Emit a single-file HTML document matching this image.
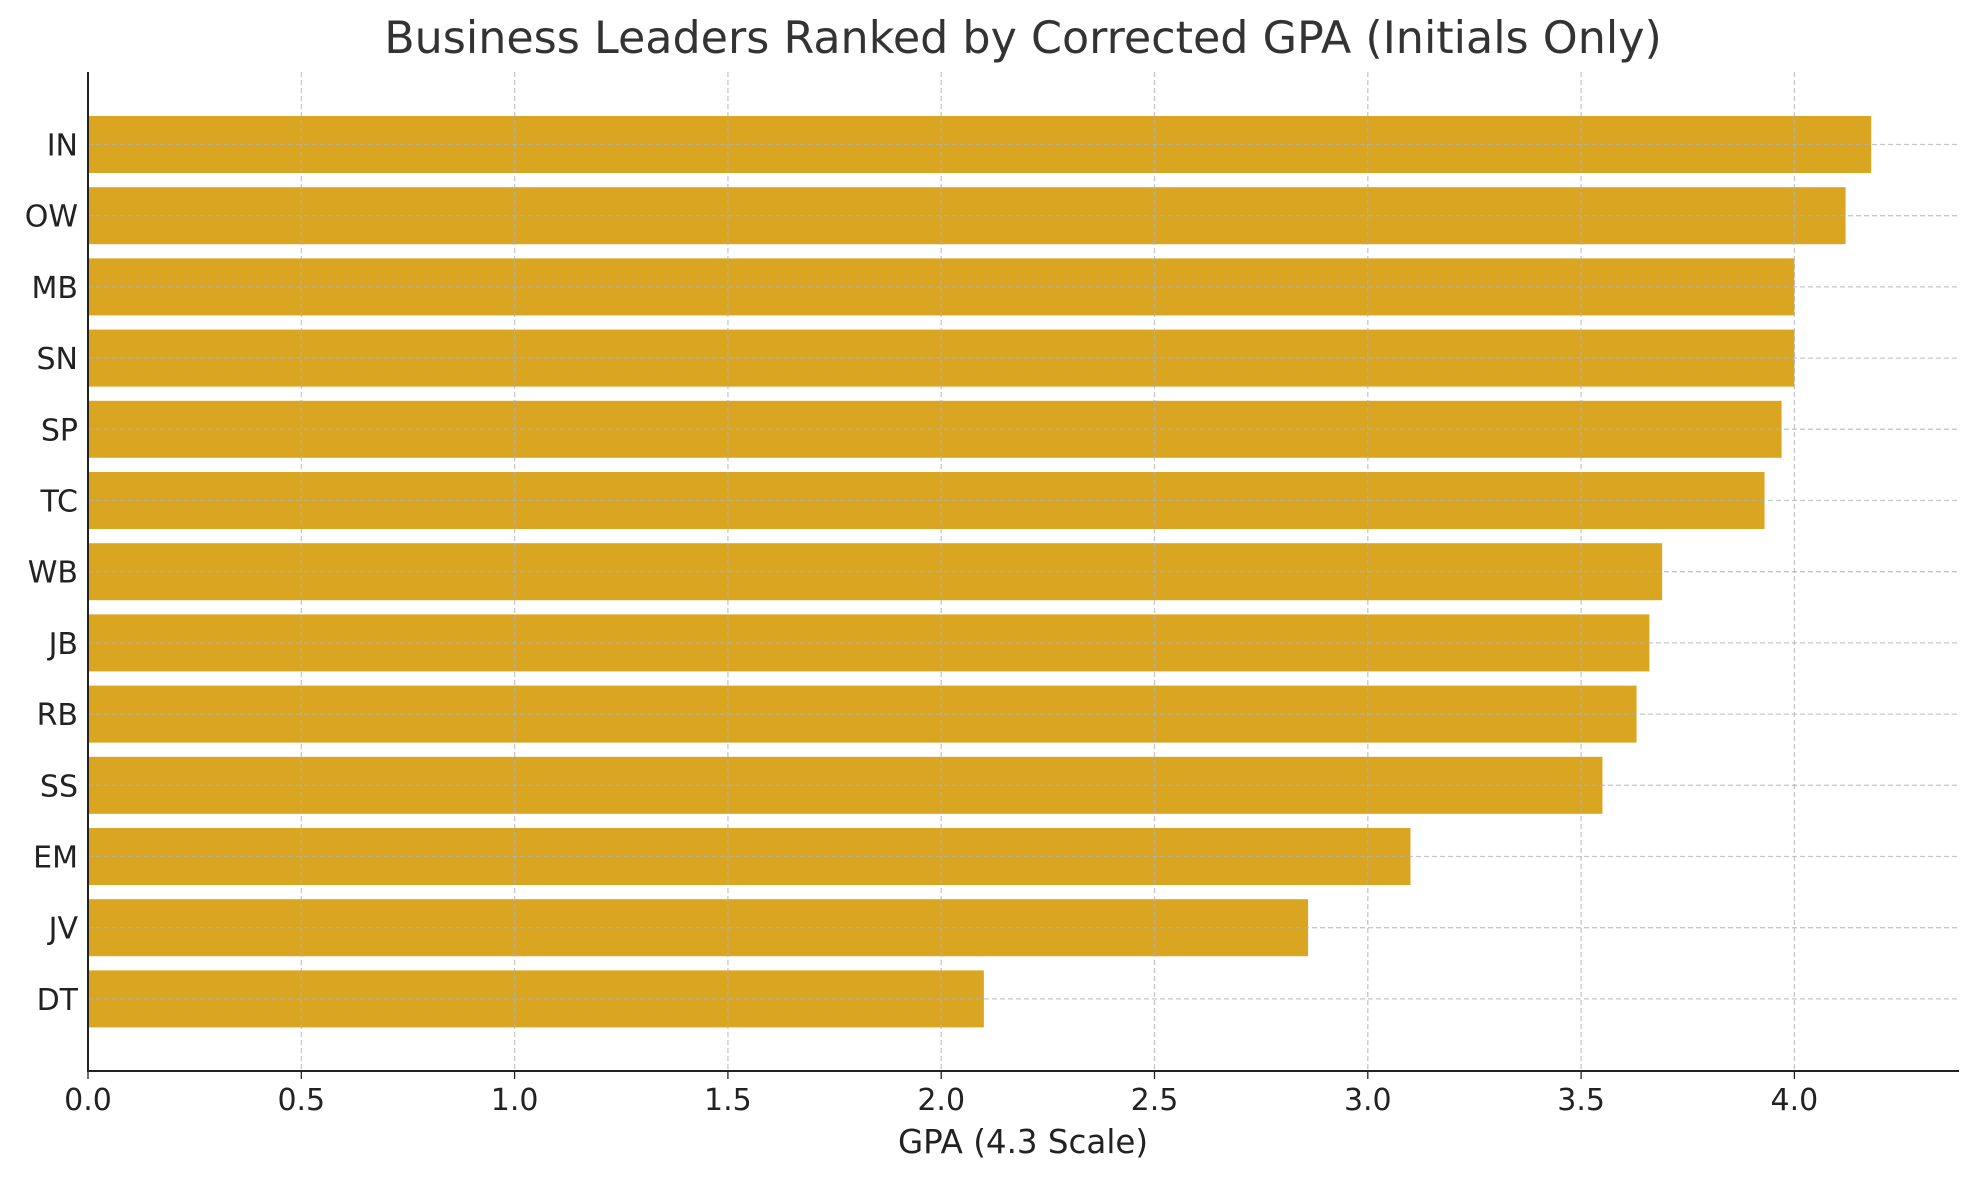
<!DOCTYPE html>
<html><head><meta charset="utf-8"><style>body{margin:0;background:#fff}svg{display:block}</style></head>
<body>
<svg id="chart" width="1979" height="1180" xmlns="http://www.w3.org/2000/svg" font-family="'DejaVu Sans','Liberation Sans',sans-serif">
<text x="1023" y="53" font-size="44.4" text-anchor="middle" fill="#333">Business Leaders Ranked by Corrected GPA (Initials Only)</text>
<text x="1023" y="1153" font-size="32.5" text-anchor="middle" fill="#222">GPA (4.3 Scale)</text>
<g id="bars"></g><g id="grid"></g><g id="axes"></g>
</svg>
<script>
const categories = ["IN","OW","MB","SN","SP","TC","WB","JB","RB","SS","EM","JV","DT"];
const gpaValues = [4.18,4.12,4.0,4.0,3.97,3.93,3.69,3.66,3.63,3.55,3.10,2.86,2.10];
const xTicks = [0,0.5,1,1.5,2,2.5,3,3.5,4];
const xTickLabels = ["0.0","0.5","1.0","1.5","2.0","2.5","3.0","3.5","4.0"];
const NS="http://www.w3.org/2000/svg";
const L=88,R=1959,T=72,B=1071;
function xs(v){return L+v*426.6;}
function ys(i){return 144.5+i*71.2;}
const bw=57;
function mk(tag,attrs,parent){const e=document.createElementNS(NS,tag);for(const k in attrs)e.setAttribute(k,attrs[k]);parent.appendChild(e);return e;}
const bars=document.getElementById('bars'),grid=document.getElementById('grid'),axes=document.getElementById('axes');
categories.forEach((c,i)=>{
  const r=mk('rect',{x:L,y:ys(i)-bw/2,width:xs(gpaValues[i])-L,height:bw,fill:'#DAA520'},bars);
  
  
  const g=mk('line',{x1:L,x2:R,y1:ys(i),y2:ys(i),stroke:'#b0b0b0','stroke-opacity':0.7,'stroke-width':1.3,'stroke-dasharray':'5,3'},grid);
  
  
  const t=mk('text',{x:78,y:ys(i)+11,'font-size':30,'text-anchor':'end',fill:'#222'},axes);
  t.textContent=c;
  
  
});
xTicks.forEach((v,i)=>{
  const g=mk('line',{x1:xs(v),x2:xs(v),y1:T,y2:B,stroke:'#b0b0b0','stroke-opacity':0.7,'stroke-width':1.3,'stroke-dasharray':'5,3'},grid);
  
  
  const tk=mk('line',{x1:xs(v),x2:xs(v),y1:B,y2:B+8,stroke:'#222','stroke-width':1.3},axes);
  
  
  const t=mk('text',{x:xs(v),y:1110,'font-size':30,'text-anchor':'middle',fill:'#222'},axes);
  t.textContent=xTickLabels[i];
  
  
});
const ya=mk('line',{x1:L,x2:L,y1:T,y2:B,stroke:'#222','stroke-width':2},axes);


const xa=mk('line',{x1:L-1,x2:R,y1:B,y2:B,stroke:'#222','stroke-width':2},axes);


</script>
</body></html>
